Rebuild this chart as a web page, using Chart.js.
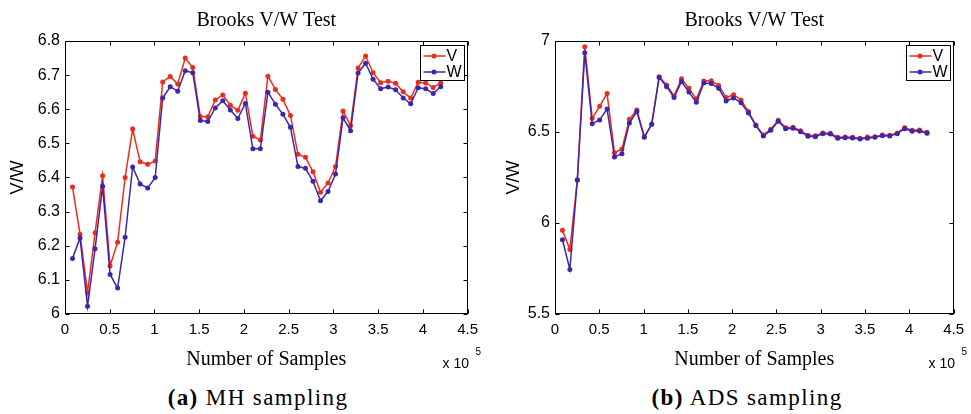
<!DOCTYPE html>
<html>
<head>
<meta charset="utf-8">
<script src="https://cdn.jsdelivr.net/npm/chart.js@4.4.1/dist/chart.umd.min.js"></script>
<style>
  body { margin: 0; background: #fff; width: 971px; height: 414px; position: relative; overflow: hidden; }
  .caja { position: absolute; top: 0; height: 375px; }
  .pie { position: absolute; top: 386px; font-family: "Liberation Serif", serif; font-size: 23px; letter-spacing: 1.4px; line-height: 1; white-space: nowrap; transform: translateX(-50%); }
</style>
</head>
<body>
<div class="caja" style="left:0;width:485px"><canvas id="mh"></canvas></div>
<div class="caja" style="left:490px;width:481px"><canvas id="ads"></canvas></div>
<div class="pie" style="left:258px"><b>(a)</b> MH sampling</div>
<div class="pie" style="left:747px"><b>(b)</b> ADS sampling</div>
<script>
const muestras = [8400, 16800, 25200, 33600, 42000, 50400, 58800, 67200, 75600, 84000,
  92400, 100800, 109200, 117600, 126000, 134400, 142800, 151200, 159600, 168000,
  176400, 184800, 193200, 201600, 210000, 218400, 226800, 235200, 243600, 252000,
  260400, 268800, 277200, 285600, 294000, 302400, 310800, 319200, 327600, 336000,
  344400, 352800, 361200, 369600, 378000, 386400, 394800, 403200, 411600, 420000];

// MH sampling
const mh_v = [6.372, 6.234, 6.063, 6.238, 6.405, 6.141, 6.210, 6.400, 6.542, 6.446,
  6.439, 6.448, 6.680, 6.696, 6.674, 6.750, 6.722, 6.579, 6.578, 6.627,
  6.642, 6.612, 6.597, 6.647, 6.521, 6.510, 6.697, 6.658, 6.629, 6.582,
  6.468, 6.459, 6.417, 6.357, 6.384, 6.432, 6.595, 6.552, 6.721, 6.756,
  6.707, 6.678, 6.682, 6.676, 6.651, 6.633, 6.679, 6.677, 6.664, 6.677];
const mh_w = [6.163, 6.223, 6.023, 6.191, 6.374, 6.116, 6.076, 6.225, 6.431, 6.381,
  6.369, 6.400, 6.633, 6.666, 6.653, 6.713, 6.707, 6.567, 6.564, 6.604,
  6.625, 6.598, 6.573, 6.617, 6.484, 6.484, 6.650, 6.615, 6.585, 6.547,
  6.432, 6.427, 6.389, 6.332, 6.359, 6.410, 6.575, 6.537, 6.706, 6.735,
  6.688, 6.660, 6.665, 6.657, 6.633, 6.616, 6.663, 6.660, 6.646, 6.666];

// ADS sampling
const ads_v = [5.960, 5.855, 6.236, 6.969, 6.575, 6.641, 6.711, 6.386, 6.407, 6.570,
  6.621, 6.474, 6.542, 6.804, 6.758, 6.698, 6.793, 6.740, 6.681, 6.780,
  6.782, 6.756, 6.689, 6.705, 6.676, 6.612, 6.538, 6.484, 6.515, 6.564,
  6.524, 6.526, 6.507, 6.482, 6.480, 6.495, 6.493, 6.471, 6.473, 6.471,
  6.465, 6.473, 6.474, 6.484, 6.482, 6.495, 6.524, 6.509, 6.511, 6.498];
const ads_w = [5.908, 5.745, 6.236, 6.936, 6.546, 6.566, 6.626, 6.363, 6.381, 6.549,
  6.612, 6.471, 6.542, 6.800, 6.749, 6.689, 6.777, 6.720, 6.663, 6.769,
  6.766, 6.740, 6.670, 6.687, 6.661, 6.604, 6.535, 6.478, 6.509, 6.559,
  6.518, 6.520, 6.502, 6.476, 6.474, 6.491, 6.489, 6.465, 6.469, 6.467,
  6.462, 6.465, 6.471, 6.480, 6.478, 6.491, 6.518, 6.504, 6.506, 6.493];

const x_ticks = [0, 0.5, 1, 1.5, 2, 2.5, 3, 3.5, 4, 4.5];
const mh_y_ticks = [6, 6.1, 6.2, 6.3, 6.4, 6.5, 6.6, 6.7, 6.8];
const ads_y_ticks = [5.5, 6, 6.5, 7];

const rojo = "rgb(232, 44, 30)";
const azul = "rgb(62, 38, 170)";
const sans = "'Liberation Sans', Arial, sans-serif";
const serif = "'Liberation Serif', 'Times New Roman', serif";

Chart.defaults.color = "#000";

// caja, marcas hacia dentro, leyenda y el "x 10^5"
const plugin_marco = {
  id: "marco",
  afterDraw: (chart) => {
    const ctx = chart.ctx;
    const a = chart.chartArea;
    const sx = chart.scales.x;
    const sy = chart.scales.y;
    const L = Math.round(a.left) + 0.5, R = Math.round(a.right) - 0.5;
    const T = Math.round(a.top) + 0.5, B = Math.round(a.bottom) - 0.5;
    ctx.save();
    ctx.strokeStyle = "#000";
    ctx.lineWidth = 1;
    ctx.beginPath();
    sx.ticks.forEach((t) => {
      const px = Math.round(sx.getPixelForValue(t.value)) + 0.5;
      ctx.moveTo(px, B); ctx.lineTo(px, B - 4);
      ctx.moveTo(px, T); ctx.lineTo(px, T + 4);
    });
    sy.ticks.forEach((t) => {
      const py = Math.round(sy.getPixelForValue(t.value)) + 0.5;
      ctx.moveTo(L, py); ctx.lineTo(L + 4, py);
      ctx.moveTo(R, py); ctx.lineTo(R - 4, py);
    });
    ctx.stroke();
    ctx.strokeRect(L, T, R - L, B - T);

    // leyenda
    const w = 44, h = 35;
    const x0 = Math.round(R - 4 - w) + 0.5, y0 = Math.round(T + 3) + 0.5;
    ctx.fillStyle = "#fff";
    ctx.fillRect(x0, y0, w, h);
    ctx.strokeRect(x0, y0, w, h);
    ctx.font = "16px " + sans;
    ctx.textBaseline = "middle";
    ctx.textAlign = "left";
    chart.data.datasets.forEach((ds, i) => {
      const yy = y0 + 10.5 + i * 16;
      ctx.strokeStyle = ds.borderColor;
      ctx.lineWidth = 1.5;
      ctx.beginPath();
      ctx.moveTo(x0 + 3, yy); ctx.lineTo(x0 + 25, yy);
      ctx.stroke();
      ctx.fillStyle = ds.borderColor;
      ctx.beginPath();
      ctx.arc(x0 + 13.5, yy, 2.5, 0, Math.PI * 2);
      ctx.fill();
      ctx.fillStyle = "#000";
      ctx.fillText(ds.label, x0 + 26, yy + 1);
    });

    // exponente del eje x
    ctx.fillStyle = "#000";
    ctx.textBaseline = "alphabetic";
    ctx.font = "14px " + sans;
    ctx.fillText("x 10", a.right - 25, a.bottom + 54);
    ctx.font = "10px " + sans;
    ctx.fillText("5", a.right + 8, a.bottom + 41);
    ctx.restore();
  },
};

function crearGrafica(id, datos_v, datos_w, y_ticks, pad_right, pad_titulo_y) {
  const ctx = document.getElementById(id).getContext("2d");
  return new Chart(ctx, {
    type: "line",
    data: {
      datasets: [
        {
          label: "V",
          data: muestras.map((m, i) => ({ x: m, y: datos_v[i] })),
          borderColor: rojo,
          backgroundColor: rojo,
          borderWidth: 1.5,
          pointRadius: 2.5,
          pointBorderWidth: 0,
          pointBackgroundColor: rojo,
          tension: 0,
          order: 1,
        },
        {
          label: "W",
          data: muestras.map((m, i) => ({ x: m, y: datos_w[i] })),
          borderColor: azul,
          backgroundColor: azul,
          borderWidth: 1.5,
          pointRadius: 2.5,
          pointBorderWidth: 0,
          pointBackgroundColor: azul,
          tension: 0,
          order: 0,
        },
      ],
    },
    options: {
      responsive: true,
      maintainAspectRatio: false,
      animation: false,
      layout: { padding: { left: 0, right: pad_right, top: 0, bottom: 0 } },
      plugins: {
        legend: { display: false },
        tooltip: { enabled: false },
        title: {
          display: true,
          text: "Brooks V/W Test",
          fullSize: false,
          font: { family: serif, size: 20, weight: "normal", lineHeight: 1.2 },
          padding: { top: 9, bottom: 8 },
        },
      },
      scales: {
        x: {
          type: "linear",
          min: x_ticks[0] * 1e5,
          max: x_ticks[x_ticks.length - 1] * 1e5,
          afterBuildTicks: (scale) => {
            scale.ticks = x_ticks.map((v) => ({ value: v * 1e5 }));
          },
          afterFit: (scale) => { scale.height = 61; },
          grid: { display: false, drawTicks: false },
          border: { display: false },
          ticks: {
            padding: 7,
            maxRotation: 0,
            autoSkip: false,
            font: { family: sans, size: 15 },
            callback: (value) => String(Number((value / 1e5).toFixed(1))),
          },
          title: {
            display: true,
            text: "Number of Samples",
            font: { family: serif, size: 20, lineHeight: 1.2 },
            padding: { top: 0, bottom: 3 },
          },
        },
        y: {
          min: y_ticks[0],
          max: y_ticks[y_ticks.length - 1],
          afterBuildTicks: (scale) => {
            scale.ticks = y_ticks.map((v) => ({ value: v }));
          },
          afterFit: (scale) => { scale.width = 65; },
          grid: { display: false, drawTicks: false },
          border: { display: false },
          ticks: {
            padding: 5,
            autoSkip: false,
            font: { family: sans, size: 16 },
            callback: (value) => String(Number(value.toFixed(1))),
          },
          title: {
            display: true,
            text: "V/W",
            font: { family: sans, size: 18, lineHeight: 1.2 },
            padding: { top: pad_titulo_y, bottom: 0 },
          },
        },
      },
    },
    plugins: [plugin_marco],
  });
}

const chart_mh = crearGrafica("mh", mh_v, mh_w, mh_y_ticks, 17, 7);
const chart_ads = crearGrafica("ads", ads_v, ads_w, ads_y_ticks, 13, 13);
</script>
</body>
</html>
